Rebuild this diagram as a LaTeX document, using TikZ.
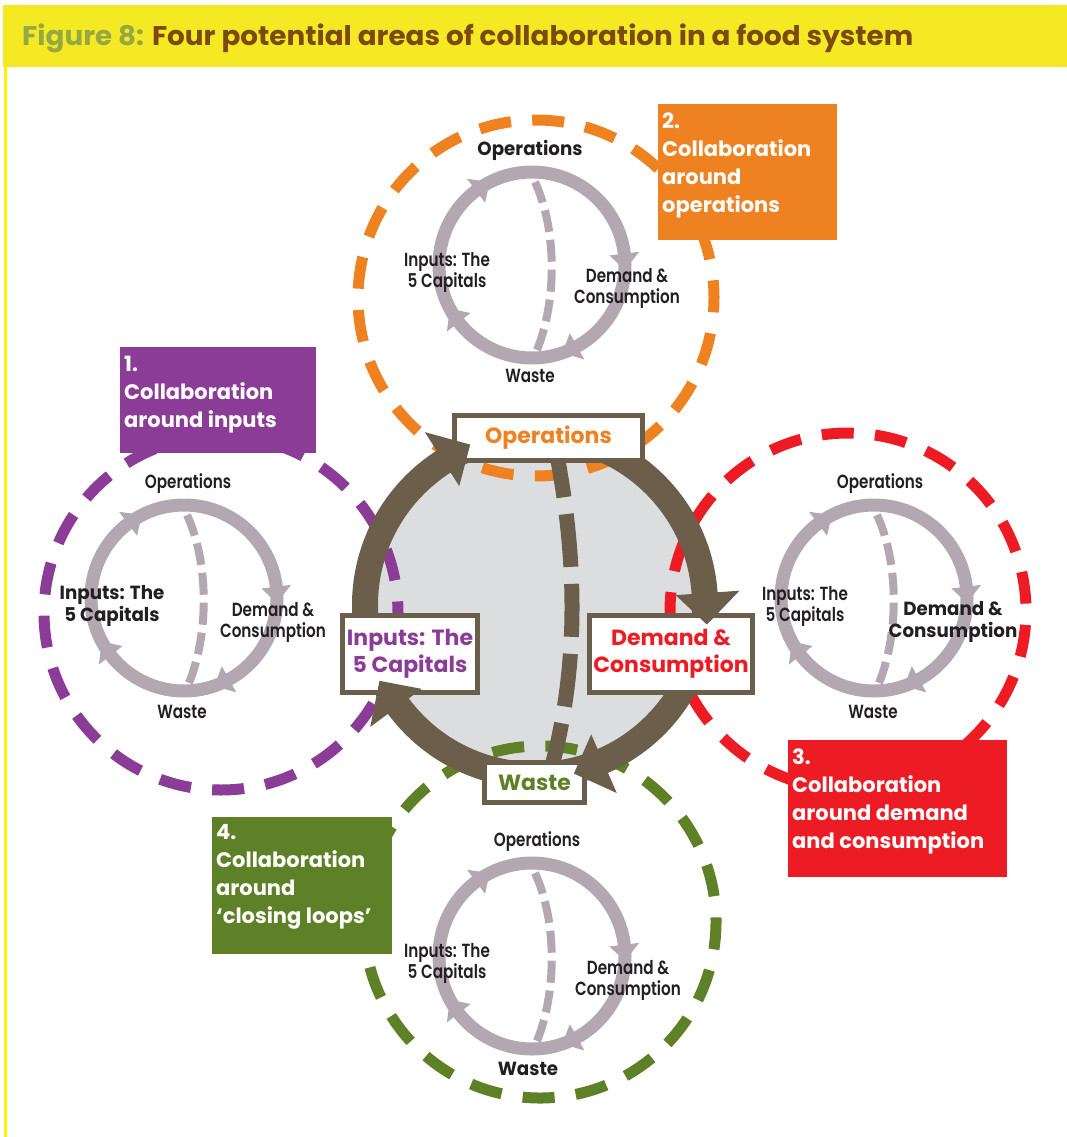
\documentclass[tikz,border=0pt]{standalone}
\usepackage{fontspec}
\usepackage{graphicx}
\setmainfont{Poppins}
\newfontfamily\labf{Poppins SemiBold}[FakeStretch=0.8]
\newfontfamily\labbf{Poppins}[FakeStretch=0.96]
\usetikzlibrary{calc}
\definecolor{titlebar}{HTML}{F4E922}
\definecolor{titleline}{HTML}{FFF200}
\definecolor{tgreen}{HTML}{96A843}
\definecolor{tbrown}{HTML}{7A4A12}
\definecolor{cpurple}{HTML}{8B3C96}
\definecolor{corange}{HTML}{EE8220}
\definecolor{cred}{HTML}{ED1C24}
\definecolor{cgreen}{HTML}{5E8026}
\definecolor{cbrown}{HTML}{6B5E4A}
\definecolor{cmauve}{HTML}{B3A8B1}
\definecolor{cgray}{HTML}{DCDDDF}
\definecolor{ctext}{HTML}{231F20}
\tikzset{
 labn/.style={font=\labf\fontsize{19}{21}\selectfont, text=ctext, align=center, inner sep=0pt},
 labb/.style={font=\labbf\bfseries\fontsize{19}{22}\selectfont, text=ctext, align=center, inner sep=0pt},
 dcirc/.style={line width=11pt, dash pattern=on 32pt off 21.3pt},
 cbox/.style={draw=cbrown, line width=5pt, fill=white, inner sep=0pt, align=center, font=\bfseries\fontsize{22}{27}\selectfont},
 collab/.style={inner sep=0pt, anchor=north west, align=left, text=white, font=\bfseries\fontsize{21}{28}\selectfont},
}
\newcommand\minicycle[2]{%
 \begin{scope}[shift={(#1,#2)}]
 \draw[cmauve, line width=13pt] (0,0) circle[radius=93];
 \draw[cmauve, line width=8pt, dash pattern=on 22pt off 8pt] (3,-83) .. controls (25,-35) and (25,35) .. (5,85);
 \foreach \ang in {-117,3,71,152} {\fill[cmauve] (\ang:93) -- ({\ang-10}:108) -- ({\ang-10}:78) -- cycle;}
 \end{scope}}
\begin{document}
\begin{tikzpicture}[x=1pt,y=-1pt]
\useasboundingbox (0,0) rectangle (1067,1137);
\fill[white] (0,0) rectangle (1067,1137);
\fill[titlebar] (3,5) rectangle (1067,67);
\fill[titleline] (4,67) rectangle (7,1137);
\node[anchor=base west, inner sep=0pt] (title) at (22,46) {\resizebox{891pt}{\height}{\bfseries\fontsize{27}{30}\selectfont\textcolor{tgreen}{Figure 8:} \textcolor{tbrown}{Four potential areas of collaboration in a food system}}};

% central disc
\fill[cgray] (535,605) circle[radius=170];

% dashed collaboration circles
\draw[cpurple, dcirc] (221,613) ++(-90:177) arc[start angle=-90, delta angle=360, radius=177];
\draw[corange, dcirc] (536,298) ++(-40:178) arc[start angle=-40, delta angle=360, radius=178];
\draw[cred, dcirc] (848,611) ++(90:178) arc[start angle=90, delta angle=360, radius=178];
\draw[cgreen, dcirc] (540,922) ++(185:176) arc[start angle=185, delta angle=360, radius=176];

% small cycles
\minicycle{532}{265}
\node[labb] (o-op) at (530,150) {Operations};
\node[labn] (o-in) at (447,272) {Inputs: The\\5 Capitals};
\node[labn] (o-de) at (627,288) {Demand \&\\Consumption};
\node[labn] (o-wa) at (530,376) {Waste};

\minicycle{184}{598}
\node[labn] (p-op) at (188,484) {Operations};
\node[labb] (p-in) at (112,606) {Inputs: The\\5 Capitals};
\node[labn] (p-de) at (273,622) {Demand \&\\Consumption};
\node[labn] (p-wa) at (182,712) {Waste};

\minicycle{874}{598}
\node[labn] (r-op) at (880,484) {Operations};
\node[labn] (r-in) at (805,606) {Inputs: The\\5 Capitals};
\node[labb] (r-de) at (953,622) {Demand \&\\Consumption};
\node[labn] (r-wa) at (873,712) {Waste};

\minicycle{532}{956}
\node[labn] (g-op) at (537,842) {Operations};
\node[labn] (g-in) at (447,963) {Inputs: The\\5 Capitals};
\node[labn] (g-de) at (628,980) {Demand \&\\Consumption};
\node[labb] (g-wa) at (528,1069) {Waste};

% central cycle
\draw[cbrown, line width=26pt] (535,605) circle[radius=170];
\draw[cbrown, line width=15pt, dash pattern=on 53pt off 17pt] (555,445) .. controls (578,560) and (578,665) .. (553,762);

\node[cbox, minimum width=188pt, minimum height=45pt, text=corange] (ops) at (548.5,438) {Operations};
\node[cbox, minimum width=135pt, minimum height=77pt, text=cpurple] (inp) at (410,654) {Inputs: The\\5 Capitals};
\node[cbox, minimum width=163pt, minimum height=77pt, text=cred] (dem) at (671,654) {Demand \&\\Consumption};
\node[cbox, minimum width=100pt, minimum height=40pt, text=cgreen] (was) at (534.5,782.5) {Waste};

\begin{scope}[shift={(535,605)}]
\foreach \ang in {-112,6.5,77,154} {\fill[cbrown] (\ang:173) -- ({\ang-10.5}:205) -- ({\ang-10.5}:141) -- cycle;}
\end{scope}

% collaboration boxes
\fill[cpurple] (120,347) rectangle (316,453);
\node[collab] (t1) at (124,356) {1.\\Collaboration\\around inputs};
\fill[corange] (658,104) rectangle (837,240);
\node[collab] (t2) at (662,113) {2.\\Collaboration\\around\\operations};
\fill[cred] (788,740) rectangle (1007,877);
\node[collab] (t3) at (792,749) {3.\\Collaboration\\around demand\\and consumption};
\fill[cgreen] (212,817) rectangle (392,954);
\node[collab] (t4) at (216,824) {4.\\Collaboration\\around\\‘closing loops’};
\end{tikzpicture}
\end{document}
